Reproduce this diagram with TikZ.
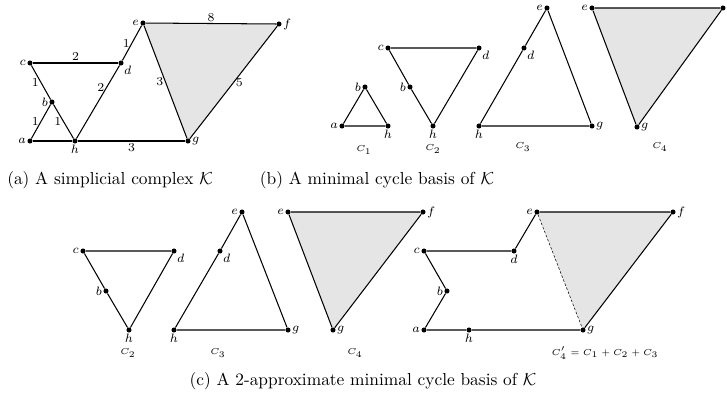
\documentclass[tikz,border=0pt]{standalone}
\usepackage{amsmath}
\usetikzlibrary{positioning, backgrounds}

\begin{document}
\begin{tikzpicture}[
  x=0.576pt, y=-0.576pt,
  vtx/.style={circle, fill=black, inner sep=0pt, minimum size=2.9pt},
  edge/.style={line width=0.6pt},
  face/.style={fill=gray!20},
  wt/.style={font=\fontsize{7}{8}\selectfont, inner sep=1pt},
  cyc/.style={font=\fontsize{5.5}{6}\selectfont, inner sep=0pt},
  captext/.style={font=\normalsize, inner sep=0pt},
  every label/.style={font=\fontsize{7.5}{8}\selectfont, inner sep=0.5pt},
  label distance=0pt
]
\useasboundingbox (0,0) rectangle (727,404);

% (a) the complex K
\node[vtx, label={left:$a$}] (ka) at (30,141) {};
\node[vtx, label={left:$b$}] (kb) at (52,102) {};
\node[vtx, label={left:$c$}] (kc) at (30,63) {};
\node[vtx, label={below right:$d$}] (kd) at (121,63) {};
\node[vtx, label={left:$e$}] (ke) at (143,23) {};
\node[vtx, label={right:$f$}] (kf) at (279,24) {};
\node[vtx, label={right:$g$}] (kg) at (188,141) {};
\node[vtx, label={below:$h$}] (kh) at (75,141) {};
\begin{scope}[on background layer]
  \fill[face] (ke.center) -- (kf.center) -- (kg.center) -- cycle;
\end{scope}
\draw[edge] (ka) -- node[wt, left] {1} (kb);
\draw[edge] (kb) -- node[wt, left] {1} (kc);
\draw[edge] (kb) -- node[wt, left] {1} (kh);
\draw[edge] (kc) -- node[wt, above] {2} (kd);
\draw[edge] (kd) -- node[wt, left, pos=0.3] {2} (kh);
\draw[edge] (kd) -- node[wt, left] {1} (ke);
\draw[edge] (ka) -- (kh);
\draw[edge] (kh) -- node[wt, below] {3} (kg);
\draw[edge] (ke) -- node[wt, left] {3} (kg);
\draw[edge] (ke) -- node[wt, above] {8} (kf);
\draw[edge] (kf) -- node[wt, right] {5} (kg);
\node[captext] (capa) at (110,180) {(a) A simplicial complex $\mathcal{K}$};

% (b) minimal cycle basis
\node[vtx, label={left:$a$}] (p1a) at (342,126) {};
\node[vtx, label={left:$b$}] (p1b) at (365,87) {};
\node[vtx, label={below:$h$}] (p1h) at (388,126) {};
\draw[edge] (p1a) -- (p1b) -- (p1h) -- (p1a);
\node[cyc] (p1lbl) at (364,150) {$C_1$};

\node[vtx, label={left:$c$}] (p2c) at (388,48) {};
\node[vtx, label={below right:$d$}] (p2d) at (479,48) {};
\node[vtx, label={left:$b$}] (p2b) at (410,87) {};
\node[vtx, label={below:$h$}] (p2h) at (433,126) {};
\draw[edge] (p2c) -- (p2d) -- (p2h) -- (p2b) -- (p2c);
\node[cyc] (p2lbl) at (433,149) {$C_2$};

\node[vtx, label={left:$e$}] (p3e) at (547,8) {};
\node[vtx, label={below right:$d$}] (p3d) at (524,48) {};
\node[vtx, label={below:$h$}] (p3h) at (479,126) {};
\node[vtx, label={right:$g$}] (p3g) at (592,126) {};
\draw[edge] (p3e) -- (p3d) -- (p3h) -- (p3g) -- (p3e);
\node[cyc] (p3lbl) at (523,147) {$C_3$};

\node[vtx, label={left:$e$}] (p4e) at (592,8) {};
\node[vtx] (p4f) at (723,8) {};
\node[vtx, label={right:$g$}] (p4g) at (637,127) {};
\begin{scope}[on background layer]
  \fill[face] (p4e.center) -- (p4f.center) -- (p4g.center) -- cycle;
\end{scope}
\draw[edge] (p4e) -- (p4f) -- (p4g) -- (p4e);
\node[cyc] (p4lbl) at (660,147) {$C_4$};
\node[captext] (capb) at (377,180) {(b) A minimal cycle basis of $\mathcal{K}$};

% (c) 2-approximate basis
\node[vtx, label={left:$c$}] (q2c) at (83,251) {};
\node[vtx, label={below right:$d$}] (q2d) at (174,251) {};
\node[vtx, label={left:$b$}] (q2b) at (106,291) {};
\node[vtx, label={below:$h$}] (q2h) at (129,330) {};
\draw[edge] (q2c) -- (q2d) -- (q2h) -- (q2b) -- (q2c);
\node[cyc] (q2lbl) at (128,353) {$C_2$};

\node[vtx, label={left:$e$}] (q3e) at (242,212) {};
\node[vtx, label={below right:$d$}] (q3d) at (220,251) {};
\node[vtx, label={below:$h$}] (q3h) at (174,330) {};
\node[vtx, label={right:$g$}] (q3g) at (288,330) {};
\draw[edge] (q3e) -- (q3d) -- (q3h) -- (q3g) -- (q3e);
\node[cyc] (q3lbl) at (218,353) {$C_3$};

\node[vtx, label={left:$e$}] (q4e) at (288,212) {};
\node[vtx, label={right:$f$}] (q4f) at (423,212) {};
\node[vtx, label={right:$g$}] (q4g) at (333,330) {};
\begin{scope}[on background layer]
  \fill[face] (q4e.center) -- (q4f.center) -- (q4g.center) -- cycle;
\end{scope}
\draw[edge] (q4e) -- (q4f) -- (q4g) -- (q4e);
\node[cyc] (q4lbl) at (355,353) {$C_4$};

\node[vtx, label={left:$a$}] (ra) at (424,330) {};
\node[vtx, label={left:$b$}] (rb) at (447,291) {};
\node[vtx, label={left:$c$}] (rc) at (424,251) {};
\node[vtx, label={below:$d$}] (rd) at (514,251) {};
\node[vtx, label={left:$e$}] (re) at (537,212) {};
\node[vtx, label={right:$f$}] (rf) at (673,212) {};
\node[vtx, label={right:$g$}] (rg) at (583,330) {};
\node[vtx, label={below:$h$}] (rh) at (469,330) {};
\begin{scope}[on background layer]
  \fill[face] (re.center) -- (rf.center) -- (rg.center) -- cycle;
\end{scope}
\draw[edge] (ra) -- (rb) -- (rc) -- (rd) -- (re) -- (rf) -- (rg) -- (rh) -- (ra);
\draw[line width=0.3pt, dashed, dash pattern=on 1.5pt off 1pt] (re) -- (rg);
\node[cyc] (rlbl) at (605,353) {$C'_4 = C_1 + C_2 + C_3$};
\node[captext] (capc) at (363,381) {(c) A 2-approximate minimal cycle basis of $\mathcal{K}$};

\end{tikzpicture}
\end{document}
